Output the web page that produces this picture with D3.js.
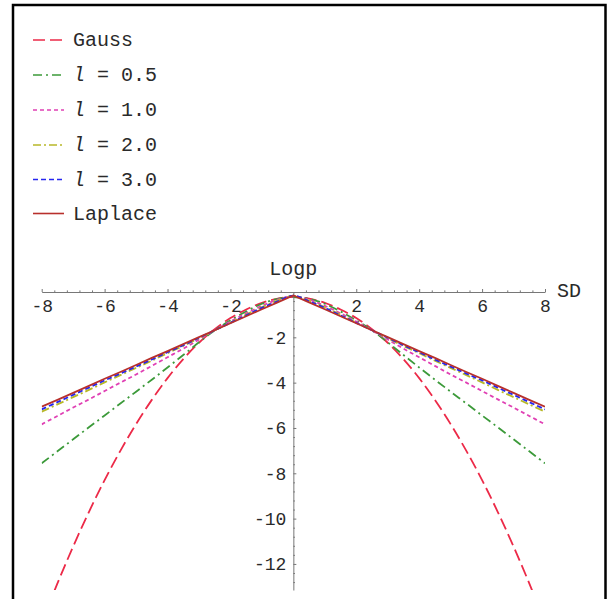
<!DOCTYPE html>
<html><head><meta charset="utf-8">
<script src="https://cdn.jsdelivr.net/npm/d3@7"></script>
<style>
html,body{margin:0;padding:0;background:#fff;}
svg{display:block;}
text{font-family:"Liberation Mono","DejaVu Sans Mono",monospace;fill:#2a2a2a;}
</style></head>
<body><svg id="c" width="610" height="599"></svg>
<script>
// ---- data ----
const sd = [-8,-7.5,-7,-6.5,-6,-5.5,-5,-4.5,-4,-3.5,-3,-2.5,-2,-1.5,-1,-0.5,0,0.5,1,1.5,2,2.5,3,3.5,4,4.5,5,5.5,6,6.5,7,7.5,8];
const gauss = [-14.6,-12.86,-11.23,-9.71,-8.3,-7.01,-5.83,-4.76,-3.8,-2.96,-2.24,-1.64,-1.15,-0.77,-0.48,-0.29,-0.22,-0.29,-0.48,-0.77,-1.15,-1.64,-2.24,-2.96,-3.8,-4.76,-5.83,-7.01,-8.3,-9.71,-11.23,-12.86,-14.6];
const l05 = [-7.56,-7.03,-6.5,-5.97,-5.45,-4.92,-4.4,-3.87,-3.33,-2.78,-2.22,-1.69,-1.25,-0.86,-0.52,-0.3,-0.22,-0.3,-0.52,-0.86,-1.25,-1.69,-2.22,-2.78,-3.33,-3.87,-4.4,-4.92,-5.45,-5.97,-6.5,-7.03,-7.56];
const l10 = [-5.84,-5.47,-5.1,-4.74,-4.37,-4.0,-3.64,-3.26,-2.88,-2.5,-2.1,-1.69,-1.3,-0.94,-0.61,-0.34,-0.19,-0.34,-0.61,-0.94,-1.3,-1.69,-2.1,-2.5,-2.88,-3.26,-3.64,-4.0,-4.37,-4.74,-5.1,-5.47,-5.84];
const l20 = [-5.28,-4.96,-4.64,-4.32,-3.99,-3.67,-3.35,-3.03,-2.7,-2.38,-2.04,-1.69,-1.35,-1.0,-0.67,-0.38,-0.17,-0.38,-0.67,-1.0,-1.35,-1.69,-2.04,-2.38,-2.7,-3.03,-3.35,-3.67,-3.99,-4.32,-4.64,-4.96,-5.28];
const l30 = [-5.18,-4.86,-4.54,-4.22,-3.9,-3.6,-3.29,-2.98,-2.66,-2.35,-2.02,-1.69,-1.36,-1.03,-0.7,-0.41,-0.16,-0.41,-0.7,-1.03,-1.36,-1.69,-2.02,-2.35,-2.66,-2.98,-3.29,-3.6,-3.9,-4.22,-4.54,-4.86,-5.18];
const laplace = [-5.06,-4.76,-4.45,-4.14,-3.83,-3.53,-3.22,-2.91,-2.61,-2.3,-1.99,-1.69,-1.38,-1.07,-0.76,-0.46,-0.15,-0.46,-0.76,-1.07,-1.38,-1.69,-1.99,-2.3,-2.61,-2.91,-3.22,-3.53,-3.83,-4.14,-4.45,-4.76,-5.06];
const legendLabels = ["Gauss", "l = 0.5", "l = 1.0", "l = 2.0", "l = 3.0", "Laplace"];
const xTicks = [-8,-6,-4,-2,2,4,6,8];
const yTicks = [-2,-4,-6,-8,-10,-12];
const xLabel = "SD";
const yLabel = "Logp";

// ---- styles ----
const seriesData = [gauss, l05, l10, l20, l30, laplace];
const colors = ["#ec2a48", "#3c9a3a", "#e040b4", "#b8b828", "#2626f0", "#b8302c"];
const dashes = ["12,5", "9,4,2,4", "4,3", "8,3,2,3", "5,3", null];
const curves = [d3.curveCatmullRom, d3.curveCatmullRom, d3.curveCatmullRom, d3.curveCatmullRom, d3.curveCatmullRom, d3.curveLinear];

const svg = d3.select("#c");

// frame
svg.append("path").attr("d", "M13,599 L13,5 L605.5,5 L605.5,599")
  .attr("fill", "none").attr("stroke", "#000").attr("stroke-width", 2.5);

const x = d3.scaleLinear().domain([-8, 8]).range([41.7, 545]);
const y = d3.scaleLinear().domain([-13.15, 0]).range([590, 292]);

// clip
svg.append("clipPath").attr("id", "clip").append("rect")
  .attr("x", x(-8)).attr("y", y(0) - 6).attr("width", x(8) - x(-8)).attr("height", y(-13.15) - y(0) + 6);

// axes (with minor ticks)
const minorX = d3.range(-8, 8.001, 0.4).filter(v => Math.abs(v % 2) > 0.01 && Math.abs(v) > 0.01);
const minorY = d3.range(-0.4, -13.15, -0.4).filter(v => Math.abs(v % 2) > 0.01);
const axCol = "#777";

const gx = svg.append("g").attr("transform", `translate(0,${y(0)})`)
  .call(d3.axisBottom(x).tickValues(xTicks).tickSizeInner(-3).tickSizeOuter(0).tickPadding(7).tickFormat(d => d));
const gxm = gx.append("g").call(d3.axisBottom(x).tickValues(minorX).tickSize(-1.6).tickFormat(""));
gxm.select(".domain").remove();
gx.selectAll(".domain").attr("stroke", axCol);
gx.selectAll("line").attr("stroke", axCol);
gx.selectAll("text").attr("font-size", 18).attr("fill", "#2a2a2a").attr("font-family", null);

const gy = svg.append("g").attr("transform", `translate(${x(0)},0)`)
  .call(d3.axisLeft(y).tickValues(yTicks).tickSizeInner(-3).tickSizeOuter(0).tickPadding(7).tickFormat(d => d));
const gym = gy.append("g").call(d3.axisLeft(y).tickValues(minorY).tickSize(-1.6).tickFormat(""));
gym.select(".domain").remove();
gy.selectAll(".domain").attr("stroke", axCol);
gy.selectAll("line").attr("stroke", axCol);
gy.selectAll("text").attr("font-size", 18).attr("fill", "#2a2a2a").attr("font-family", null);

// axis labels
svg.append("text").attr("x", x(0)).attr("y", 275).attr("text-anchor", "middle")
  .attr("font-size", 20).text(yLabel);
svg.append("text").attr("x", 557).attr("y", 297).attr("font-size", 20).text(xLabel);

// series
const plot = svg.append("g").attr("clip-path", "url(#clip)");
seriesData.forEach((vals, i) => {
  const line = d3.line().x((d, j) => x(sd[j])).y(d => y(d)).curve(curves[i]);
  plot.append("path").datum(vals)
    .attr("d", line)
    .attr("fill", "none")
    .attr("stroke", colors[i])
    .attr("stroke-width", 1.8)
    .attr("stroke-dasharray", dashes[i]);
});

// legend
const legY = [40, 75, 110, 145, 179.5, 213.5];
legendLabels.forEach((lab, i) => {
  const g = svg.append("g").attr("transform", `translate(0,${legY[i]})`);
  g.append("line").attr("x1", 33).attr("x2", 64).attr("y1", 0).attr("y2", 0)
    .attr("stroke", colors[i]).attr("stroke-width", 1.6)
    .attr("stroke-dasharray", dashes[i]);
  const t = g.append("text").attr("x", 73).attr("y", 6).attr("font-size", 20);
  if (lab.startsWith("l ")) {
    t.append("tspan").attr("font-style", "italic").text("l");
    t.append("tspan").text(lab.slice(1));
  } else {
    t.text(lab);
  }
});
</script></body></html>
